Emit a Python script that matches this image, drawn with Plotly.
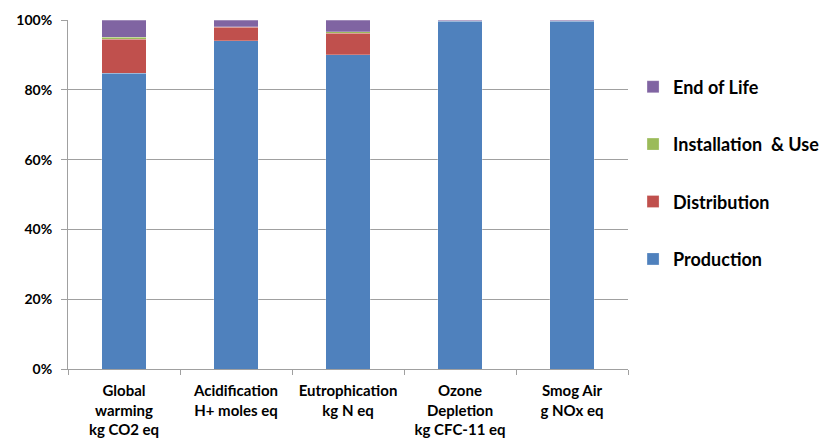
import plotly.graph_objects as go

categories = ["Global<br>warming<br>kg CO2 eq", "Acidification<br>H+ moles eq",
              "Eutrophication<br>kg N eq", "Ozone<br>Depletion<br>kg CFC-11 eq",
              "Smog Air<br>g NOx eq"]
production = [84.7, 94.1, 90.0, 99.7, 99.7]
distribution = [9.8, 3.8, 6.2, 0.1, 0.1]
installation_use = [0.6, 0.1, 0.5, 0.0, 0.0]
end_of_life = [4.9, 2.0, 3.3, 0.2, 0.2]

series = [
    ("Production", production, "#4F81BD"),
    ("Distribution", distribution, "#C0504D"),
    ("Installation  & Use", installation_use, "#9BBB59"),
    ("End of Life", end_of_life, "#8064A2"),
]

fig = go.Figure()
for i, (name, vals, col) in enumerate(series):
    fig.add_trace(go.Bar(
        x=categories, y=vals, name=name, legendgroup=str(i), legendrank=10 - i,
        marker=dict(color=col, line=dict(color="rgba(255,255,255,0.5)", width=0.5)),
        width=0.4
    ))

# page body adds an 8px offset, so the figure is drawn 8px smaller
fig.update_layout(
    barmode="stack", width=820, height=432,
    margin=dict(l=60, r=200, t=12, b=71, autoexpand=False),
    plot_bgcolor="white", paper_bgcolor="white",
    font=dict(family="Lato", size=15, color="black", weight="bold"),
    legend=dict(x=1.009, y=0.861, yanchor="top", traceorder="grouped",
                tracegroupgap=31, font=dict(size=18, weight="bold"),
                itemwidth=30),
    showlegend=True,
    xaxis=dict(showline=True, linecolor="#A0A0A0", ticks="outside", tickson="boundaries",
               tickcolor="#A0A0A0", ticklen=5, tickfont=dict(size=15),
               ticklabelstandoff=8),
    yaxis=dict(range=[0, 100], dtick=20, ticksuffix="%", showgrid=True, gridcolor="#A0A0A0",
               showline=True, linecolor="#A0A0A0", ticks="outside", tickcolor="#A0A0A0",
               ticklen=6, tickfont=dict(size=14), zeroline=False,
               ticklabelstandoff=6),
)

fig.write_html("out.html")
